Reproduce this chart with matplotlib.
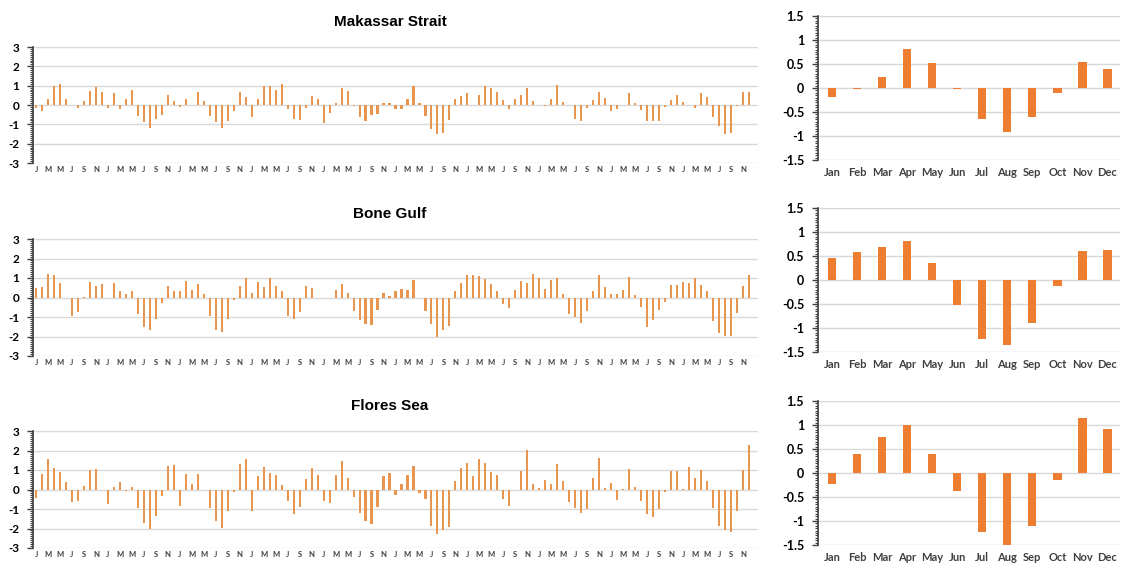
import numpy as np
import matplotlib.pyplot as plt
from matplotlib.ticker import MultipleLocator

plt.rcParams["axes.unicode_minus"] = False
plt.rcParams["font.family"] = ["Lato", "DejaVu Sans"]

# monthly anomalies, 10 years (Jan..Dec each year)
makassar = [
    -0.15, -0.3, 0.3, 1.0, 1.1, 0.3, -0.02, -0.15, 0.2, 0.7, 0.95, 0.65,
    -0.15, 0.6, -0.2, 0.3, 0.8, -0.55, -0.9, -1.2, -0.7, -0.5, 0.5, 0.2,
    -0.1, 0.3, 0.0, 0.65, 0.2, -0.55, -0.9, -1.2, -0.85, -0.3, 0.65, 0.4,
    -0.6, 0.3, 1.0, 1.0, 0.8, 1.1, -0.2, -0.7, -0.75, -0.15, 0.45, 0.3,
    -0.95, -0.4, 0.1, 0.9, 0.7, -0.05, -0.6, -0.85, -0.5, -0.45, 0.1, 0.1,
    -0.2, -0.2, 0.3, 1.0, 0.1, -0.55, -1.25, -1.5, -1.45, -0.8, 0.3, 0.45,
    0.6, 0.0, 0.5, 1.0, 0.9, 0.65, 0.25, -0.2, 0.3, 0.5, 0.9, 0.2,
    0.0, -0.05, 0.3, 1.05, 0.15, 0.0, -0.7, -0.85, -0.15, 0.25, 0.65, 0.35,
    -0.3, -0.2, 0.0, 0.6, 0.1, -0.25, -0.85, -0.85, -0.85, -0.1, 0.25, 0.5,
    0.15, 0.0, -0.15, 0.6, 0.4, -0.6, -1.1, -1.5, -1.45, -0.05, 0.65, 0.65,
]
bone = [
    0.5, 0.55, 1.2, 1.15, 0.75, 0.0, -0.95, -0.75, 0.05, 0.8, 0.6, 0.7,
    0.0, 0.75, 0.35, 0.2, 0.35, -0.85, -1.5, -1.65, -1.1, -0.3, 0.6, 0.35,
    0.35, 0.85, 0.4, 0.7, 0.2, -0.95, -1.65, -1.75, -1.1, -0.15, 0.6, 1.0,
    0.25, 0.8, 0.55, 1.0, 0.6, 0.35, -0.95, -1.1, -0.75, 0.6, 0.5, 0.0,
    0.0, 0.0, 0.4, 0.7, 0.25, -0.7, -1.15, -1.35, -1.4, -0.65, 0.25, 0.1,
    0.35, 0.45, 0.4, 0.9, 0.0, -0.7, -1.35, -2.05, -1.65, -1.45, 0.35, 0.75,
    1.15, 1.15, 1.1, 0.95, 0.7, 0.35, -0.35, -0.55, 0.4, 0.85, 0.75, 1.2,
    1.0, 0.45, 0.9, 1.0, 0.2, -0.85, -1.0, -1.3, -0.7, 0.35, 1.15, 0.55,
    0.2, 0.2, 0.4, 1.05, 0.15, -0.5, -1.5, -1.15, -0.65, -0.25, 0.65, 0.65,
    0.8, 0.75, 1.0, 0.65, 0.35, -1.2, -1.8, -1.95, -1.95, -0.8, 0.6, 1.15,
]
flores = [
    -0.45, 0.8, 1.55, 1.1, 0.9, 0.4, -0.65, -0.6, 0.2, 1.0, 1.05, 0.0,
    -0.75, 0.15, 0.4, -0.1, 0.15, -0.95, -1.7, -2.0, -1.35, -0.35, 1.2, 1.25,
    -0.85, 0.8, 0.3, 0.8, -0.05, -0.95, -1.6, -1.95, -1.1, -0.15, 1.3, 1.55,
    -1.1, 0.7, 1.15, 0.85, 0.75, 0.25, -0.6, -1.25, -0.9, 0.55, 1.1, 0.75,
    -0.6, -0.7, 0.75, 1.45, 0.6, -0.4, -1.2, -1.6, -1.75, -0.9, 0.7, 0.85,
    -0.3, 0.3, 0.75, 1.2, -0.2, -0.5, -1.85, -2.3, -2.1, -1.9, 0.45, 1.1,
    1.35, 0.7, 1.55, 1.35, 0.9, 0.75, -0.5, -0.85, 0.0, 0.95, 2.05, 0.3,
    0.1, 0.5, 0.3, 1.3, 0.45, -0.65, -0.95, -1.2, -1.0, 0.6, 1.6, 0.1,
    0.35, -0.55, 0.05, 1.05, 0.15, -0.6, -1.25, -1.4, -1.0, -0.15, 0.95, 0.95,
    0.05, 1.15, 0.6, 1.0, 0.45, -0.95, -1.85, -2.1, -2.2, -1.1, 1.0, 2.3,
]

months = ["Jan", "Feb", "Mar", "Apr", "May", "Jun",
          "Jul", "Aug", "Sep", "Oct", "Nov", "Dec"]
makassar_clim = [-0.18, -0.02, 0.22, 0.82, 0.53, -0.03, -0.65, -0.92, -0.6, -0.1, 0.55, 0.4]
bone_clim = [0.46, 0.58, 0.68, 0.82, 0.36, -0.52, -1.22, -1.36, -0.9, -0.12, 0.6, 0.63]
flores_clim = [-0.22, 0.39, 0.74, 1.0, 0.4, -0.38, -1.22, -1.52, -1.1, -0.15, 1.14, 0.92]

names = ["Makassar Strait", "Bone Gulf", "Flores Sea"]
series = [makassar, bone, flores]
clims = [makassar_clim, bone_clim, flores_clim]

W, H = 1121, 565
fig = plt.figure(figsize=(W / 100, H / 100), dpi=100)

def px_axes(x0, y0, x1, y1):
    # axes from pixel box (top-left origin)
    return fig.add_axes([x0 / W, 1 - y1 / H, (x1 - x0) / W, (y1 - y0) / H])

def style(ax):
    for s in ["top", "right", "bottom"]:
        ax.spines[s].set_visible(False)
    ax.spines["left"].set_color("#404040")
    ax.spines["left"].set_linewidth(1.2)
    ax.grid(axis="y", color="#d9d9d9", lw=1)
    ax.set_axisbelow(True)
    ax.tick_params(axis="x", length=0, pad=2)
    ax.tick_params(axis="y", which="major", length=4, width=1, color="#404040", pad=6)
    ax.tick_params(axis="y", which="minor", length=2.5, width=0.8, color="#404040")

left_boxes = [(33, 47, 758, 163), (33, 239, 758, 356), (33, 431, 758, 548)]
right_boxes = [(818, 16, 1120, 160), (818, 208, 1120, 352), (818, 401, 1120, 545)]
month_letters = ["J", "M", "M", "J", "S", "N"]

for i in range(3):
    vals = np.array(series[i])
    x = np.arange(len(vals))
    ax = px_axes(*left_boxes[i])
    ax.bar(x, vals, width=0.35, color="#e8954f")
    ax.set_xlim(-0.5, 120.5)
    ax.set_ylim(-3, 3)
    ax.yaxis.set_major_locator(MultipleLocator(1))
    ax.yaxis.set_minor_locator(MultipleLocator(0.1))
    ax.set_xticks(np.arange(0, 120, 2))
    ax.set_xticklabels(month_letters * 10, fontsize=5.5, fontweight="bold", color="#404040")
    for t in ax.get_yticklabels():
        t.set_fontsize(8.5)
        t.set_fontweight("bold")
    style(ax)
    x0, y0, x1, y1 = left_boxes[i]
    fig.text(390 / W, 1 - (y0 - 25) / H, names[i], ha="center", va="center",
             fontsize=11, fontweight="bold", family="Liberation Sans")

    axr = px_axes(*right_boxes[i])
    axr.bar(np.arange(12), clims[i], width=0.33, color="#ed7d31")
    axr.set_xlim(-0.56, 11.5)
    axr.set_ylim(-1.5, 1.5)
    axr.yaxis.set_major_locator(MultipleLocator(0.5))
    axr.yaxis.set_minor_locator(MultipleLocator(0.05))
    axr.yaxis.set_major_formatter(lambda v, p: f"{v:g}")
    axr.set_xticks(np.arange(12))
    axr.set_xticklabels(months, fontsize=8, fontweight="bold", color="#404040")
    for t in axr.get_yticklabels():
        t.set_fontsize(9)
        t.set_fontweight("bold")
    style(axr)
    axr.tick_params(axis="x", pad=5)

fig.savefig("out.png", dpi=100)
